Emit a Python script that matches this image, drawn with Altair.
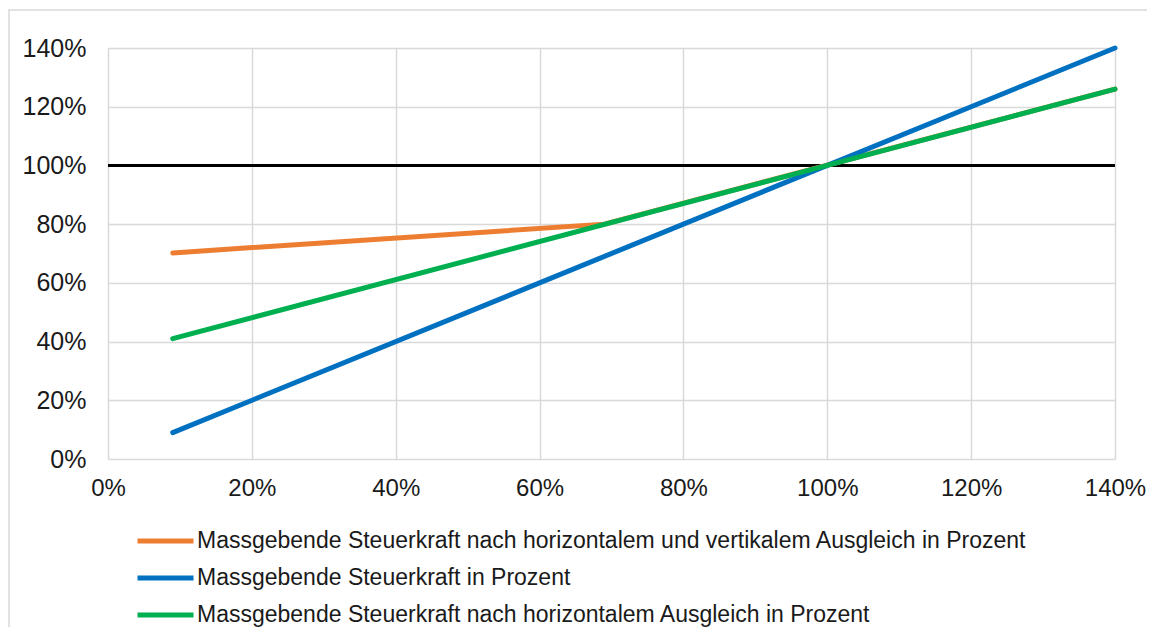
import altair as alt
import pandas as pd

series_names = [
    "Massgebende Steuerkraft nach horizontalem und vertikalem Ausgleich in Prozent",
    "Massgebende Steuerkraft in Prozent",
    "Massgebende Steuerkraft nach horizontalem Ausgleich in Prozent",
]
series_colors = ["#ED7D31", "#0070C0", "#00B050"]

orange_x = [0.09, 0.69, 1.40]
orange_y = [0.702, 0.80, 1.26]
blue_x = [0.09, 1.40]
blue_y = [0.09, 1.40]
green_x = [0.09, 1.00, 1.40]
green_y = [0.41, 1.00, 1.26]

axis_ticks = [0.0, 0.2, 0.4, 0.6, 0.8, 1.0, 1.2, 1.4]
reference_level = [1.0]

rows = []
for name, xs, ys in zip(series_names, [orange_x, blue_x, green_x], [orange_y, blue_y, green_y]):
    for i, (xv, yv) in enumerate(zip(xs, ys)):
        rows.append({"series": name, "x": xv, "y": yv, "i": i})
df = pd.DataFrame(rows)
ref_df = pd.DataFrame({"level": reference_level})

FONT = "Liberation Sans"

x_enc = alt.X(
    "x:Q",
    scale=alt.Scale(domain=[0, 1.4], nice=False, zero=False),
    axis=alt.Axis(values=axis_ticks, format=".0%", title=None, domain=False, ticks=False,
                  labelPadding=17, labelFontSize=24, labelFont=FONT, labelColor="#1a1a1a",
                  labelFlush=False, labelOverlap=False,
                  gridColor="#d9d9d9", gridWidth=1.5),
)
y_enc = alt.Y(
    "y:Q",
    scale=alt.Scale(domain=[0, 1.4], nice=False, zero=False),
    axis=alt.Axis(values=axis_ticks, format=".0%", title=None, domain=False, ticks=False,
                  labelPadding=22, labelFontSize=25, labelFont=FONT, labelColor="#1a1a1a",
                  labelFlush=False, labelOverlap=False,
                  gridColor="#d9d9d9", gridWidth=1.5),
)
color_enc = alt.Color(
    "series:N",
    scale=alt.Scale(domain=series_names, range=series_colors),
    legend=alt.Legend(
        orient="none", legendX=27, legendY=478, title=None, direction="vertical",
        symbolType="stroke", symbolSize=3136, symbolStrokeWidth=5,
        labelFontSize=23, labelFont=FONT, labelColor="#1a1a1a", labelLimit=1200,
        labelOffset=1, clipHeight=30, rowPadding=7, padding=0,
    ),
)

border = alt.Chart(ref_df).mark_rect(fill=None, stroke="#d9d9d9", strokeWidth=1.5, clip=False).encode(
    x=alt.value(-99), x2=alt.value(1100), y=alt.value(-38), y2=alt.value(650)
)

ref_line = alt.Chart(ref_df).mark_rule(color="black", strokeWidth=3).encode(
    y=alt.Y("level:Q", scale=alt.Scale(domain=[0, 1.4], nice=False, zero=False))
)

layers = []
for name in series_names:
    layers.append(
        alt.Chart(df).transform_filter(alt.datum.series == name).mark_line(
            strokeWidth=5, strokeCap="round"
        ).encode(x=x_enc, y=y_enc, color=color_enc, order="i:Q")
    )

chart = alt.layer(border, ref_line, *layers).properties(
    width=1007, height=411,
    autosize=alt.AutoSizeParams(type="none"),
    padding={"left": 100, "top": 40, "right": 32, "bottom": 168},
).configure_view(stroke=None).configure(background="white")

chart.save("out.html", embed_options={"renderer": "svg", "actions": False})
